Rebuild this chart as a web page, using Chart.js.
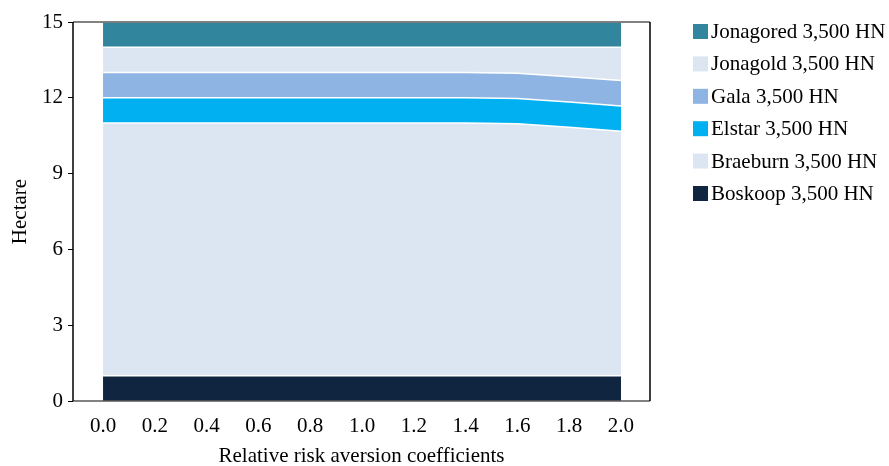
<!DOCTYPE html>
<html lang="en">
<head>
  <meta charset="UTF-8" />
  <title>Hectare by risk aversion</title>
  <script src="https://cdn.jsdelivr.net/npm/chart.js"></script>
  <style>
    body { margin: 0; background: #fff; }
  </style>
</head>
<body>
  <canvas id="chart" width="889" height="466"></canvas>

  <script>
    // Data
    const xValues = [0.0, 0.2, 0.4, 0.6, 0.8, 1.0, 1.2, 1.4, 1.6, 1.8, 2.0];
    const boskoop = [1, 1, 1, 1, 1, 1, 1, 1, 1, 1, 1];
    const braeburn = [10, 10, 10, 10, 10, 10, 10, 10, 9.97, 9.83, 9.68];
    const elstar = [1, 1, 1, 1, 1, 1, 1, 1, 1, 1, 1];
    const gala = [1, 1, 1, 1, 1, 1, 1, 1, 1, 1, 1];
    const jonagold = [1, 1, 1, 1, 1, 1, 1, 1, 1.03, 1.17, 1.32];
    const jonagored = [1, 1, 1, 1, 1, 1, 1, 1, 1, 1, 1];
    const xTicks = [0.0, 0.2, 0.4, 0.6, 0.8, 1.0, 1.2, 1.4, 1.6, 1.8, 2.0];
    const yTicks = [0, 3, 6, 9, 12, 15];

    const FONT = "'Liberation Serif', 'Times New Roman', serif";
    const SIZE = 21;

    function pts(arr) {
      return arr.map((v, i) => ({ x: xValues[i], y: v }));
    }
    function area(label, arr, color, fill) {
      return {
        label: label,
        data: pts(arr),
        backgroundColor: color,
        borderColor: '#ffffff',
        borderWidth: 1.5,
        pointRadius: 0,
        tension: 0,
        fill: fill
      };
    }

    // frame round the plot area
    const frame = {
      id: 'frame',
      afterDatasetsDraw(chart) {
        const a = chart.chartArea;
        const c = chart.ctx;
        c.save();
        c.lineWidth = 1.5;
        c.strokeStyle = '#595959';
        c.beginPath();
        c.moveTo(a.left, a.top); c.lineTo(a.right, a.top);
        c.moveTo(a.left, a.bottom); c.lineTo(a.right, a.bottom);
        c.stroke();
        c.strokeStyle = '#000';
        c.beginPath();
        c.moveTo(a.left, a.top); c.lineTo(a.left, a.bottom);
        c.moveTo(a.right, a.top); c.lineTo(a.right, a.bottom);
        c.stroke();
        c.restore();
      }
    };

    // legend on the right, top series first
    const sideLegend = {
      id: 'sideLegend',
      afterDraw(chart) {
        const c = chart.ctx;
        const sets = chart.data.datasets.slice().reverse();
        c.save();
        c.font = SIZE + 'px ' + FONT;
        c.textBaseline = 'middle';
        c.fillStyle = '#000';
        sets.forEach((ds, i) => {
          const y = 31.5 + i * 32.4;
          c.fillStyle = ds.backgroundColor;
          c.fillRect(693, y - 7.5, 15, 15);
          c.fillStyle = '#000';
          c.fillText(ds.label, 711, y + 1);
        });
        c.restore();
      }
    };

    new Chart(document.getElementById('chart'), {
      type: 'line',
      data: {
        datasets: [
          area('Boskoop 3,500 HN', boskoop, '#10253f', 'origin'),
          area('Braeburn 3,500 HN', braeburn, '#dce6f2', '-1'),
          area('Elstar 3,500 HN', elstar, '#00b0f0', '-1'),
          area('Gala 3,500 HN', gala, '#8eb4e3', '-1'),
          area('Jonagold 3,500 HN', jonagold, '#dce6f2', '-1'),
          area('Jonagored 3,500 HN', jonagored, '#31859c', '-1')
        ]
      },
      options: {
        responsive: false,
        animation: false,
        layout: { padding: { left: 8, right: 239, top: 22, bottom: 0 } },
        scales: {
          x: {
            type: 'linear',
            min: -0.116,
            max: 2.112,
            afterBuildTicks: axis => { axis.ticks = xTicks.map(v => ({ value: v })); },
            afterFit: axis => { axis.height = 65; },
            grid: { display: false },
            border: { display: false },
            ticks: {
              color: '#000',
              font: { family: FONT, size: SIZE },
              padding: 5,
              callback: v => v.toFixed(1)
            },
            title: {
              display: true,
              text: 'Relative risk aversion coefficients',
              color: '#000',
              font: { family: FONT, size: SIZE },
              padding: { top: 12, bottom: -3 }
            }
          },
          y: {
            stacked: true,
            min: 0,
            max: 15,
            afterBuildTicks: axis => { axis.ticks = yTicks.map(v => ({ value: v })); },
            afterFit: axis => { axis.width = 65; },
            grid: { drawOnChartArea: false, drawTicks: true, tickLength: 5, color: '#000' },
            border: { display: false },
            ticks: {
              color: '#000',
              font: { family: FONT, size: SIZE },
              padding: 5
            },
            title: {
              display: true,
              text: 'Hectare',
              color: '#000',
              font: { family: FONT, size: SIZE },
              padding: { top: 0, bottom: 0 }
            }
          }
        },
        plugins: {
          legend: { display: false },
          tooltip: { enabled: false }
        }
      },
      plugins: [frame, sideLegend]
    });
  </script>
</body>
</html>
